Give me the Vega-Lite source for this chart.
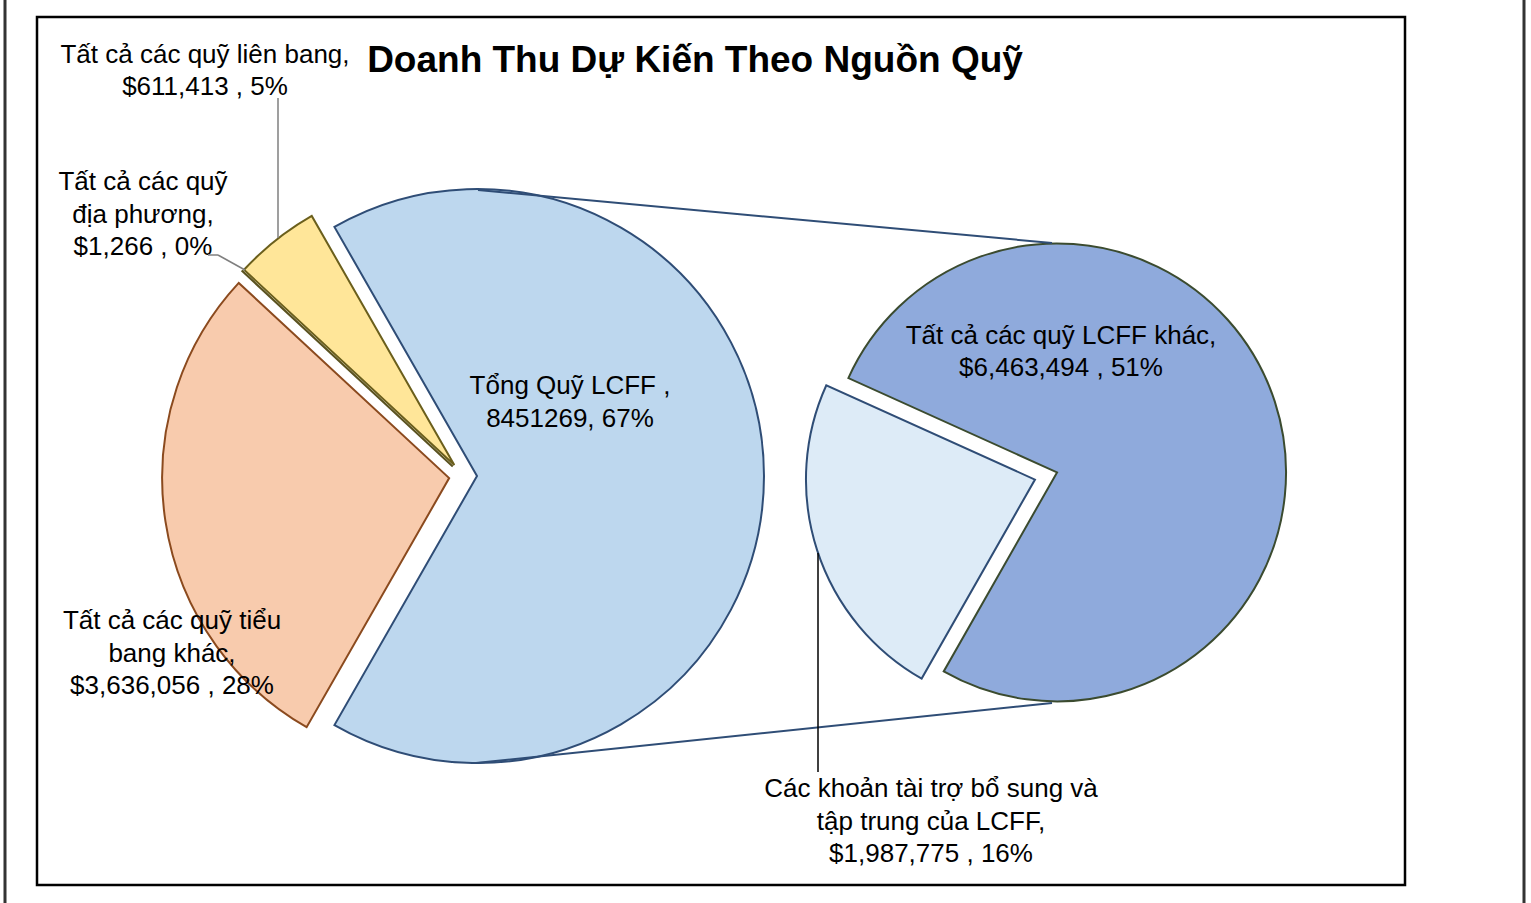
{
  "$schema": "https://vega.github.io/schema/vega-lite/v6.json",
  "width": 1368,
  "height": 868,
  "autosize": {"type": "none"},
  "padding": {"left": 37, "top": 17, "right": 126, "bottom": 18},
  "background": "white",
  "config": {"view": {"stroke": "#000000", "strokeWidth": 2.5}, "font": "Liberation Sans"},
  "title": {"text": "Doanh Thu Dự Kiến Theo Nguồn Quỹ", "font": "Liberation Sans", "fontSize": 37, "fontWeight": "bold", "color": "#000000", "anchor": "middle", "baseline": "middle", "offset": 0, "dx": -26, "dy": 99},
  "datasets": {
    "funds": [
      {"pie": "main", "cat": "Tổng Quỹ LCFF", "amount": 8451269, "order": 1, "lines": ["Tổng Quỹ LCFF ,", "8451269, 67%"]},
      {"pie": "main", "cat": "Tất cả các quỹ tiểu bang khác", "amount": 3636056, "order": 2, "lines": ["Tất cả các quỹ tiểu", "bang khác,", "$3,636,056 , 28%"]},
      {"pie": "main", "cat": "Tất cả các quỹ địa phương", "amount": 1266, "order": 3, "lines": ["Tất cả các quỹ", "địa phương,", "$1,266 , 0%"]},
      {"pie": "main", "cat": "Tất cả các quỹ liên bang", "amount": 611413, "order": 4, "lines": ["Tất cả các quỹ liên bang,", "$611,413 , 5%"]},
      {"pie": "sub", "cat": "Tất cả các quỹ LCFF khác", "amount": 6463494, "order": 1, "lines": ["Tất cả các quỹ LCFF khác,", "$6,463,494 , 51%"]},
      {"pie": "sub", "cat": "Các khoản tài trợ bổ sung và tập trung của LCFF", "amount": 1987775, "order": 2, "lines": ["Các khoản tài trợ bổ sung và", "tập trung của LCFF,", "$1,987,775 , 16%"]}
    ]
  },
  "layer": [
    {
      "data": {"name": "funds"},
      "transform": [
        {"stack": "amount", "groupby": ["pie"], "sort": [{"field": "order", "order": "ascending"}], "offset": "normalize", "as": ["f0", "f1"]}
      ],
      "encoding": {
        "x": {"field": "pie", "type": "nominal", "scale": {"type": "point", "padding": 0, "domain": ["main", "sub"], "range": [426, 1009]}, "axis": null},
        "y": {"field": "pie", "type": "nominal", "scale": {"type": "point", "padding": 0, "domain": ["main", "sub"], "range": [459, 459]}, "axis": null}
      },
      "layer": [
        {
          "transform": [{"filter": "datum.pie == 'main'"}],
          "mark": {"type": "arc", "outerRadius": 287, "strokeWidth": 2, "strokeJoin": "miter",
            "xOffset": {"expr": "14*sin(-0.5198 + PI*(datum.f0 + datum.f1))"},
            "yOffset": {"expr": "-14*cos(-0.5198 + PI*(datum.f0 + datum.f1))"}},
          "encoding": {
            "theta": {"field": "f0", "type": "quantitative", "scale": {"domain": [0, 1], "range": [-0.5198, 5.7634]}},
            "theta2": {"field": "f1"},
            "fill": {"field": "cat", "type": "nominal", "legend": null, "scale": {
              "domain": ["Tổng Quỹ LCFF", "Tất cả các quỹ tiểu bang khác", "Tất cả các quỹ địa phương", "Tất cả các quỹ liên bang", "Tất cả các quỹ LCFF khác", "Các khoản tài trợ bổ sung và tập trung của LCFF"],
              "range": ["#BDD7EE", "#F8CBAD", "#C9C27A", "#FFE699", "#8FAADC", "#DDEBF7"]}},
            "stroke": {"field": "cat", "type": "nominal", "legend": null, "scale": {
              "domain": ["Tổng Quỹ LCFF", "Tất cả các quỹ tiểu bang khác", "Tất cả các quỹ địa phương", "Tất cả các quỹ liên bang", "Tất cả các quỹ LCFF khác", "Các khoản tài trợ bổ sung và tập trung của LCFF"],
              "range": ["#2F4D76", "#8B4A1E", "#5B5320", "#6B5F1C", "#3B4B2F", "#2F4D76"]}}
          }
        },
        {
          "transform": [{"filter": "datum.pie == 'sub'"}],
          "mark": {"type": "arc", "outerRadius": 229, "strokeWidth": 2, "strokeJoin": "miter",
            "xOffset": {"expr": "11.6*sin(5.1371 + PI*(datum.f0 + datum.f1))"},
            "yOffset": {"expr": "-11.6*cos(5.1371 + PI*(datum.f0 + datum.f1))"}},
          "encoding": {
            "theta": {"field": "f0", "type": "quantitative", "scale": {"domain": [0, 1], "range": [5.1371, 11.4203]}},
            "theta2": {"field": "f1"},
            "fill": {"field": "cat", "type": "nominal", "legend": null},
            "stroke": {"field": "cat", "type": "nominal", "legend": null}
          }
        },
        {
          "transform": [{"filter": "datum.cat == 'Tất cả các quỹ liên bang'"}],
          "mark": {"type": "text", "dx": -258, "dy": -421.5, "fontSize": 26, "lineHeight": 32.5, "align": "center", "baseline": "middle", "font": "Liberation Sans", "color": "#000000"},
          "encoding": {"text": {"field": "lines"}}
        },
        {
          "transform": [{"filter": "datum.cat == 'Tất cả các quỹ địa phương'"}],
          "mark": {"type": "text", "dx": -320, "dy": -294, "fontSize": 26, "lineHeight": 32.5, "align": "center", "baseline": "middle", "font": "Liberation Sans", "color": "#000000"},
          "encoding": {"text": {"field": "lines"}}
        },
        {
          "transform": [{"filter": "datum.cat == 'Tất cả các quỹ tiểu bang khác'"}],
          "mark": {"type": "text", "dx": -291, "dy": 145, "fontSize": 26, "lineHeight": 32.5, "align": "center", "baseline": "middle", "font": "Liberation Sans", "color": "#000000"},
          "encoding": {"text": {"field": "lines"}}
        },
        {
          "transform": [{"filter": "datum.cat == 'Tổng Quỹ LCFF'"}],
          "mark": {"type": "text", "dx": 107, "dy": -90, "fontSize": 26, "lineHeight": 32.5, "align": "center", "baseline": "middle", "font": "Liberation Sans", "color": "#000000"},
          "encoding": {"text": {"field": "lines"}}
        },
        {
          "transform": [{"filter": "datum.cat == 'Tất cả các quỹ LCFF khác'"}],
          "mark": {"type": "text", "dx": 15, "dy": -140.5, "fontSize": 26, "lineHeight": 32.5, "align": "center", "baseline": "middle", "font": "Liberation Sans", "color": "#000000"},
          "encoding": {"text": {"field": "lines"}}
        },
        {
          "transform": [{"filter": "datum.cat == 'Các khoản tài trợ bổ sung và tập trung của LCFF'"}],
          "mark": {"type": "text", "dx": -115, "dy": 313, "fontSize": 26, "lineHeight": 32.5, "align": "center", "baseline": "middle", "font": "Liberation Sans", "color": "#000000"},
          "encoding": {"text": {"field": "lines"}}
        }
      ],
      "resolve": {"scale": {"theta": "independent"}}
    },
    {
      "data": {"values": [{}]},
      "mark": {"type": "rule", "color": "#2F4D76", "strokeWidth": 2, "xOffset": 15, "yOffset": -286, "x2Offset": 6, "y2Offset": -233},
      "encoding": {
        "x": {"datum": "main", "type": "nominal", "scale": {"type": "point", "padding": 0, "domain": ["main", "sub"], "range": [426, 1009]}, "axis": null},
        "y": {"datum": "main", "type": "nominal", "scale": {"type": "point", "padding": 0, "domain": ["main", "sub"], "range": [459, 459]}, "axis": null},
        "x2": {"datum": "sub"},
        "y2": {"datum": "sub"}
      }
    },
    {
      "data": {"values": [{}]},
      "mark": {"type": "rule", "color": "#2F4D76", "strokeWidth": 2, "xOffset": 13, "yOffset": 287, "x2Offset": 6, "y2Offset": 227},
      "encoding": {
        "x": {"datum": "main", "type": "nominal", "scale": {"type": "point", "padding": 0, "domain": ["main", "sub"], "range": [426, 1009]}, "axis": null},
        "y": {"datum": "main", "type": "nominal", "scale": {"type": "point", "padding": 0, "domain": ["main", "sub"], "range": [459, 459]}, "axis": null},
        "x2": {"datum": "sub"},
        "y2": {"datum": "sub"}
      }
    },
    {
      "data": {"values": [{}]},
      "mark": {"type": "rule", "color": "#7F7F7F", "strokeWidth": 1.5, "xOffset": -185, "yOffset": -378, "x2Offset": -185, "y2Offset": -238},
      "encoding": {
        "x": {"datum": "main", "type": "nominal", "scale": {"type": "point", "padding": 0, "domain": ["main", "sub"], "range": [426, 1009]}, "axis": null},
        "y": {"datum": "main", "type": "nominal", "scale": {"type": "point", "padding": 0, "domain": ["main", "sub"], "range": [459, 459]}, "axis": null},
        "x2": {"datum": "main"},
        "y2": {"datum": "main"}
      }
    },
    {
      "data": {"values": [{}]},
      "mark": {"type": "rule", "color": "#7F7F7F", "strokeWidth": 1.5, "xOffset": -255, "yOffset": -221, "x2Offset": -245, "y2Offset": -221},
      "encoding": {
        "x": {"datum": "main", "type": "nominal", "scale": {"type": "point", "padding": 0, "domain": ["main", "sub"], "range": [426, 1009]}, "axis": null},
        "y": {"datum": "main", "type": "nominal", "scale": {"type": "point", "padding": 0, "domain": ["main", "sub"], "range": [459, 459]}, "axis": null},
        "x2": {"datum": "main"},
        "y2": {"datum": "main"}
      }
    },
    {
      "data": {"values": [{}]},
      "mark": {"type": "rule", "color": "#7F7F7F", "strokeWidth": 1.5, "xOffset": -245, "yOffset": -221, "x2Offset": -218, "y2Offset": -206},
      "encoding": {
        "x": {"datum": "main", "type": "nominal", "scale": {"type": "point", "padding": 0, "domain": ["main", "sub"], "range": [426, 1009]}, "axis": null},
        "y": {"datum": "main", "type": "nominal", "scale": {"type": "point", "padding": 0, "domain": ["main", "sub"], "range": [459, 459]}, "axis": null},
        "x2": {"datum": "main"},
        "y2": {"datum": "main"}
      }
    },
    {
      "data": {"values": [{}]},
      "mark": {"type": "rule", "color": "#000000", "strokeWidth": 1.5, "xOffset": -228, "yOffset": 77, "x2Offset": -228, "y2Offset": 296},
      "encoding": {
        "x": {"datum": "sub", "type": "nominal", "scale": {"type": "point", "padding": 0, "domain": ["main", "sub"], "range": [426, 1009]}, "axis": null},
        "y": {"datum": "sub", "type": "nominal", "scale": {"type": "point", "padding": 0, "domain": ["main", "sub"], "range": [459, 459]}, "axis": null},
        "x2": {"datum": "sub"},
        "y2": {"datum": "sub"}
      }
    },
    {
      "data": {"values": [{}]},
      "mark": {"type": "rule", "color": "#333333", "strokeWidth": 3, "xOffset": -458, "yOffset": -476, "x2Offset": -458, "y2Offset": 427},
      "encoding": {
        "x": {"datum": "main", "type": "nominal", "scale": {"type": "point", "padding": 0, "domain": ["main", "sub"], "range": [426, 1009]}, "axis": null},
        "y": {"datum": "main", "type": "nominal", "scale": {"type": "point", "padding": 0, "domain": ["main", "sub"], "range": [459, 459]}, "axis": null},
        "x2": {"datum": "main"},
        "y2": {"datum": "main"}
      }
    },
    {
      "data": {"values": [{}]},
      "mark": {"type": "rule", "color": "#333333", "strokeWidth": 3, "xOffset": 478, "yOffset": -476, "x2Offset": 478, "y2Offset": 427},
      "encoding": {
        "x": {"datum": "sub", "type": "nominal", "scale": {"type": "point", "padding": 0, "domain": ["main", "sub"], "range": [426, 1009]}, "axis": null},
        "y": {"datum": "sub", "type": "nominal", "scale": {"type": "point", "padding": 0, "domain": ["main", "sub"], "range": [459, 459]}, "axis": null},
        "x2": {"datum": "sub"},
        "y2": {"datum": "sub"}
      }
    }
  ]
}
